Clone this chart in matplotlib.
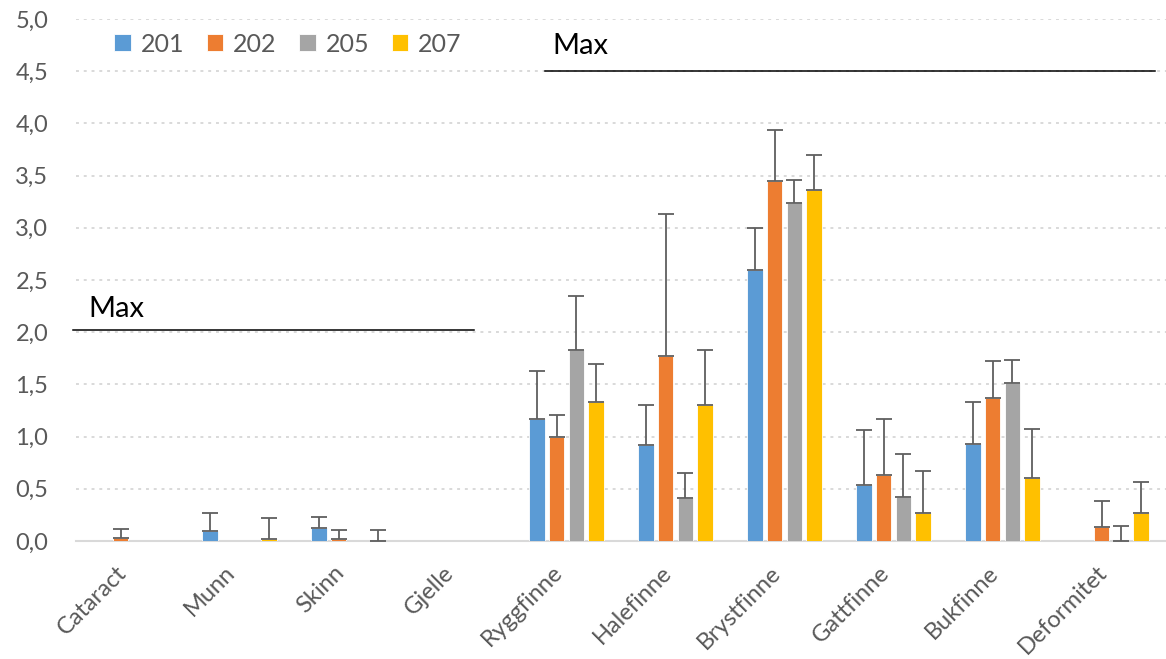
import numpy as np
import matplotlib
matplotlib.use("Agg")
import matplotlib.pyplot as plt

plt.rcParams['font.family'] = ['Lato', 'DejaVu Sans']

categories = ['Cataract', 'Munn', 'Skinn', 'Gjelle', 'Ryggfinne', 'Halefinne',
              'Brystfinne', 'Gattfinne', 'Bukfinne', 'Deformitet']
series = ['201', '202', '205', '207']
colors = ['#5B9BD5', '#ED7D31', '#A5A5A5', '#FFC000']

# mean scores per group
v201 = [0.0, 0.10, 0.12, 0.0, 1.17, 0.92, 2.60, 0.54, 0.93, 0.0]
v202 = [0.03, 0.0, 0.02, 0.0, 1.00, 1.77, 3.45, 0.63, 1.365, 0.135]
v205 = [0.0, 0.0, 0.0, 0.0, 1.83, 0.415, 3.24, 0.42, 1.515, 0.0]
v207 = [0.0, 0.02, 0.0, 0.0, 1.33, 1.305, 3.36, 0.27, 0.60, 0.27]

# upper error (nan = no error bar)
nan = np.nan
e201 = [nan, 0.165, 0.11, nan, 0.46, 0.38, 0.40, 0.52, 0.40, nan]
e202 = [0.085, nan, 0.09, nan, 0.21, 1.36, 0.49, 0.535, 0.355, 0.25]
e205 = [nan, nan, nan, nan, 0.52, 0.24, 0.22, 0.41, 0.22, 0.14]
e207 = [nan, 0.20, 0.11, nan, 0.37, 0.52, 0.34, 0.40, 0.47, 0.295]

values = [v201, v202, v205, v207]
errors = [e201, e202, e205, e207]

# "Max" reference lines: (x start, x end, level, label x, label y)
max_lines = [(-0.53, 3.15, 2.02, -0.39, 2.145), (3.80, 9.40, 4.5, 3.87, 4.665)]

txt = '#595959'
fig = plt.figure(figsize=(11.66, 6.59), dpi=100)
ax = fig.add_axes([76 / 1166, 118 / 659, 1090 / 1166, 522 / 659])

x = np.arange(len(categories))
step = 0.181
width = 0.142
for i in range(4):
    pos = x + (i - 1.5) * step
    ax.bar(pos, values[i], width, color=colors[i], edgecolor='white', linewidth=0.6,
           label=series[i], zorder=3)
    err = np.array(errors[i])
    ok = ~np.isnan(err)
    ax.errorbar(pos[ok], np.array(values[i])[ok], yerr=[np.zeros(ok.sum()), err[ok]],
                fmt='none', ecolor='#5F5F5F', elinewidth=1.3, capsize=6, capthick=1.3,
                zorder=4)

for x0, x1, lvl, tx, ty in max_lines:
    ax.plot([x0, x1], [lvl, lvl], color='black', lw=1.1, zorder=5, clip_on=False)
    ax.text(tx, ty, 'Max', fontsize=21, color='black', ha='left', va='baseline')

ax.set_xlim(-0.5, 9.5)
ax.set_ylim(0, 5)
ax.set_yticks(np.arange(0, 5.01, 0.5))
ax.set_yticklabels([f'{t:.1f}'.replace('.', ',') for t in np.arange(0, 5.01, 0.5)])
ax.set_xticks(x)
ax.set_xticklabels(categories, rotation=45, ha='right', va='top')
ax.tick_params(axis='both', length=0, colors=txt, labelsize=17)
ax.tick_params(axis='y', pad=20)
ax.tick_params(axis='x', pad=15)
ax.yaxis.grid(True, color='#D9D9D9', linestyle=(0, (1.5, 2.5)), linewidth=1.4, zorder=0)
for s in ['top', 'right', 'left']:
    ax.spines[s].set_visible(False)
ax.spines['bottom'].set_color('#D9D9D9')
ax.spines['bottom'].set_linewidth(1.5)

ax.legend(loc='center left', bbox_to_anchor=(0.035, 0.952), ncol=4, frameon=False,
          fontsize=18, labelcolor=txt, handlelength=0.66, handleheight=0.66,
          handletextpad=0.4, columnspacing=0.9, borderpad=0, borderaxespad=0)

fig.savefig('out.png', dpi=100)
